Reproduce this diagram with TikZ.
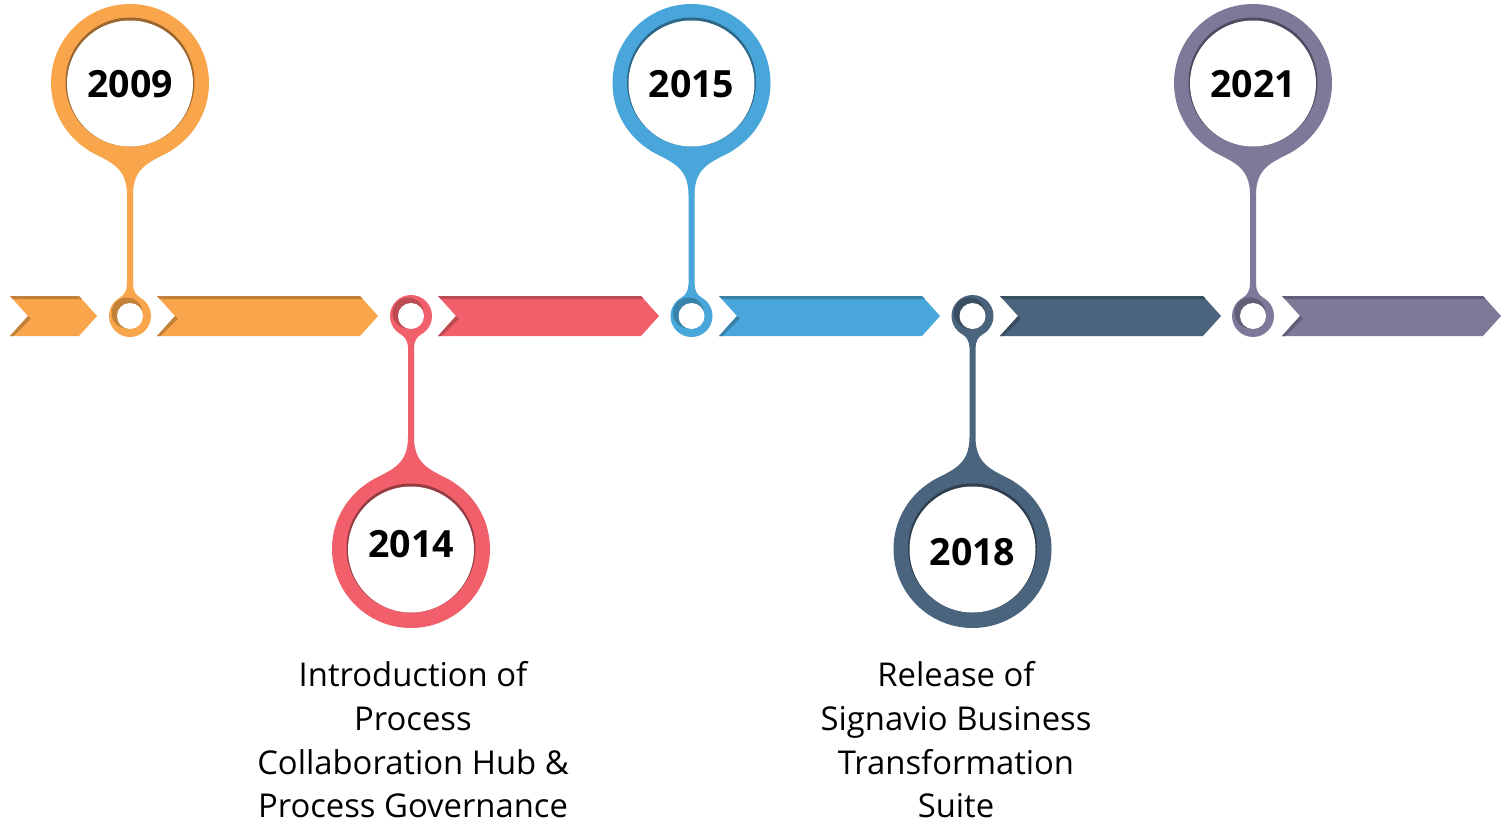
\documentclass[tikz,border=0pt]{standalone}
\usepackage{fontspec}
\setmainfont{Open Sans}
\definecolor{corange}{RGB}{249,165,75}
\definecolor{cred}{RGB}{241,96,106}
\definecolor{cblue}{RGB}{72,166,218}
\definecolor{cslate}{RGB}{74,100,126}
\definecolor{cpurple}{RGB}{127,120,153}
\tikzset{
  yearlabel/.style={font=\bfseries\fontsize{37.5}{38}\selectfont, inner sep=0pt, text=black},
  desclabel/.style={font=\fontsize{32.8}{43.6}\selectfont, align=center, inner sep=0pt, anchor=north, text=black},
}
% chevron: #1 left x, #2 right corner x, #3 colour
\newcommand\chevron[3]{%
  \fill[#3] (#1,296) -- (#2,296) -- ({#2+18},316) -- (#2,336) -- (#1,336) -- ({#1+18},316) -- cycle;
  \fill[#3!78!black] (#1,296) -- (#2,296) -- ({#2+2.7},299) -- ({#1+2.7},299) -- cycle;
  \fill[#3!78!black] ({#1+18},316) -- ({#1+21},318.5) -- ({#1+3.5},336) -- (#1,336) -- cycle;
}
% pin: #1 centre x, #2 direction (1 up, -1 down), #3 colour, #4 year, #5 name, #6 text offset
\newcommand\timepin[6]{%
  \begin{scope}[shift={(#1,316)}, yscale=#2]
    \fill[#3] (-42,-166) .. controls (-22,-154) and (-3,-151) .. (-3,-121)
      -- (-3,-32) .. controls (-3,-26) and (-5.6,-20.9) .. (-10,-18.5)
      -- (10,-18.5) .. controls (5.6,-20.9) and (3,-26) .. (3,-32)
      -- (3,-121) .. controls (3,-151) and (22,-154) .. (42,-166) -- cycle;
  \end{scope}
  \pgfmathsetmacro\pincy{316-#2*233}
  \fill[#3] (#1,\pincy) circle[radius=79];
  \fill[#3!62!black] (#1,\pincy-1) circle[radius=64.5];
  \fill[white] (#1,\pincy+0.5) circle[radius=63];
  \node[yearlabel] (#5) at (#1,\pincy+#6) {#4};
  \fill[#3] (#1,316) circle[radius=21];
  \fill[#3!78!black] ({#1-3},313) circle[radius=15.5];
  \fill[white] (#1,316) circle[radius=13];
}
\begin{document}
\begin{tikzpicture}[x=1pt,y=-1pt]
\useasboundingbox (0,0) rectangle (1502,825);
\fill[white] (0,0) rectangle (1502,825);
\chevron{10}{79}{corange}
\chevron{157}{360}{corange}
\chevron{438}{641}{cred}
\chevron{719}{922}{cblue}
\chevron{1000}{1203}{cslate}
\chevron{1282}{1483}{cpurple}
\timepin{130}{1}{corange}{2009}{y2009}{1}
\timepin{411}{-1}{cred}{2014}{y2014}{-5}
\timepin{691.5}{1}{cblue}{2015}{y2015}{1}
\timepin{972.5}{-1}{cslate}{2018}{y2018}{3}
\timepin{1253}{1}{cpurple}{2021}{y2021}{1}
\node[desclabel] (d2014) at (413,661.5) {Introduction of\\Process\\Collaboration Hub \&\\Process Governance};
\node[desclabel] (d2018) at (956,661.5) {Release of\\Signavio Business\\Transformation\\Suite};
\end{tikzpicture}
\end{document}
